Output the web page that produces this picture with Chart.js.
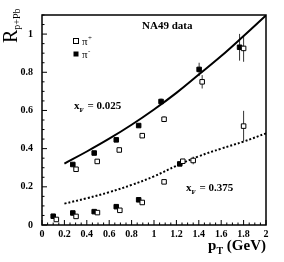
<!DOCTYPE html>
<html>
<head>
<meta charset="utf-8">
<script src="https://cdn.jsdelivr.net/npm/chart.js@4.4.0/dist/chart.umd.min.js"></script>
<style>
  html, body { margin: 0; padding: 0; background: #fff; }
</style>
</head>
<body>
<canvas id="c" width="284" height="262"></canvas>
<script>
// tick labels
const xTicks = [0, 0.2, 0.4, 0.6, 0.8, 1, 1.2, 1.4, 1.6, 1.8, 2];
const yTicks = [0, 0.2, 0.4, 0.6, 0.8, 1];

// xF = 0.025
const piMinusLowX = [0.275, 0.466, 0.663, 0.863, 1.063, 1.403, 1.764];
const piMinusLowY = [0.317, 0.377, 0.446, 0.521, 0.647, 0.815, 0.931];
const piMinusLowErr = [0, 0, 0, 0, 0.015, 0.035, 0.07];
const piPlusLowX = [0.304, 0.493, 0.69, 0.895, 1.09, 1.43, 1.80];
const piPlusLowY = [0.292, 0.333, 0.393, 0.468, 0.554, 0.75, 0.925];
const piPlusLowErr = [0, 0, 0, 0, 0.015, 0.035, 0.07];

// xF = 0.375
const piMinusHighX = [0.10, 0.275, 0.466, 0.663, 0.863, 1.23];
const piMinusHighY = [0.046, 0.063, 0.070, 0.096, 0.132, 0.32];
const piPlusHighX = [0.128, 0.304, 0.495, 0.695, 0.895, 1.09, 1.257, 1.35, 1.80];
const piPlusHighY = [0.029, 0.045, 0.065, 0.077, 0.118, 0.226, 0.334, 0.338, 0.518];
const piPlusHighErr = [0, 0, 0, 0, 0, 0, 0.01, 0.02, 0.08];

// model curves
const fitX = [0.2, 0.4, 0.6, 0.8, 1.0, 1.2, 1.4, 1.6, 1.8, 2.0];
const fitLow = [0.322, 0.385, 0.452, 0.525, 0.605, 0.692, 0.788, 0.885, 0.99, 1.098];
const fitHigh = [0.112, 0.14, 0.172, 0.21, 0.255, 0.31, 0.36, 0.4, 0.437, 0.48];

const SERIF = '"Liberation Serif", "DejaVu Serif", serif';

function pts(xs, ys) {
  return xs.map((x, i) => ({ x: x, y: ys[i] }));
}

function markers(xs, ys, err, filled) {
  return {
    data: pts(xs, ys),
    err: err,
    showLine: false,
    pointStyle: 'rect',
    pointRadius: 3.2,
    pointBorderWidth: 1,
    pointBorderColor: '#000',
    pointBackgroundColor: filled ? '#000' : '#fff',
    order: 1
  };
}

// error bars, drawn under the markers
const errorBars = {
  id: 'errorBars',
  beforeDatasetsDraw(chart) {
    const ctx = chart.ctx;
    const ys = chart.scales.y;
    ctx.save();
    ctx.strokeStyle = '#333';
    ctx.lineWidth = 1;
    chart.data.datasets.forEach((ds, i) => {
      if (!ds.err) return;
      const meta = chart.getDatasetMeta(i);
      meta.data.forEach((el, j) => {
        const e = ds.err[j];
        if (!e) return;
        const v = ds.data[j].y;
        ctx.beginPath();
        ctx.moveTo(el.x, ys.getPixelForValue(v + e));
        ctx.lineTo(el.x, ys.getPixelForValue(v - e));
        ctx.stroke();
      });
    });
    ctx.restore();
  }
};

// frame, inward ticks and all the texts
const decor = {
  id: 'decor',
  afterDraw(chart) {
    const ctx = chart.ctx;
    const a = chart.chartArea;
    const xs = chart.scales.x, ys = chart.scales.y;
    ctx.save();
    ctx.strokeStyle = '#000';
    ctx.lineWidth = 1.5;
    ctx.strokeRect(a.left, a.top, a.right - a.left, a.bottom - a.top);

    ctx.lineWidth = 1;
    for (let k = 0; k <= 40; k++) {
      const v = k * 0.05;
      const px = xs.getPixelForValue(v);
      const len = k % 4 === 0 ? 5 : 2.5;
      ctx.beginPath();
      ctx.moveTo(px, a.bottom);
      ctx.lineTo(px, a.bottom - len);
      ctx.stroke();
    }
    for (let k = 0; k <= 22; k++) {
      const v = k * 0.05;
      const py = ys.getPixelForValue(v);
      const len = k % 4 === 0 ? 5 : 2.5;
      ctx.beginPath();
      ctx.moveTo(a.left, py);
      ctx.lineTo(a.left + len, py);
      ctx.stroke();
    }

    ctx.fillStyle = '#000';
    ctx.textBaseline = 'alphabetic';

    ctx.font = 'bold 11px ' + SERIF;
    ctx.fillText('NA49 data', 142, 29);

    // legend
    ctx.fillStyle = '#fff';
    ctx.fillRect(73.5, 38.5, 5, 5);
    ctx.strokeRect(73.5, 38.5, 5, 5);
    ctx.fillStyle = '#000';
    ctx.fillRect(73.5, 51.5, 5, 5);
    ctx.font = '11px ' + SERIF;
    ctx.fillText('\u03c0', 82, 45);
    ctx.fillText('\u03c0', 82, 58);
    ctx.font = '7px ' + SERIF;
    ctx.fillText('+', 88, 40);
    ctx.fillText('-', 88, 53);

    function xf(x, y, txt) {
      ctx.font = 'bold 11px ' + SERIF;
      ctx.fillText('x', x, y);
      let w = ctx.measureText('x').width;
      ctx.font = 'bold 7px ' + SERIF;
      ctx.fillText('F', x + w, y + 3);
      w += ctx.measureText('F').width + 1;
      ctx.font = 'bold 11px ' + SERIF;
      ctx.fillText(txt, x + w, y);
    }
    xf(74, 109, ' = 0.025');
    xf(186, 191, ' = 0.375');

    // x title
    ctx.font = 'bold 15px ' + SERIF;
    const wp = ctx.measureText('p').width;
    const wg = ctx.measureText(' (GeV)').width;
    ctx.font = 'bold 10px ' + SERIF;
    const wt = ctx.measureText('T').width;
    let tx = 266 - wp - wt - wg;
    ctx.font = 'bold 15px ' + SERIF;
    ctx.fillText('p', tx, 250);
    ctx.font = 'bold 10px ' + SERIF;
    ctx.fillText('T', tx + wp, 254);
    ctx.font = 'bold 15px ' + SERIF;
    ctx.fillText(' (GeV)', tx + wp + wt, 250);

    // y title
    ctx.translate(17, 43);
    ctx.rotate(-Math.PI / 2);
    ctx.font = '20px ' + SERIF;
    ctx.fillText('R', 0, 0);
    const wr = ctx.measureText('R').width;
    ctx.font = '10px ' + SERIF;
    ctx.fillText('p+Pb', wr, 3);
    ctx.restore();
  }
};

new Chart(document.getElementById('c'), {
  type: 'scatter',
  data: {
    datasets: [
      markers(piPlusLowX, piPlusLowY, piPlusLowErr, false),
      markers(piMinusLowX, piMinusLowY, piMinusLowErr, true),
      markers(piPlusHighX, piPlusHighY, piPlusHighErr, false),
      markers(piMinusHighX, piMinusHighY, null, true),
      {
        data: pts(fitX, fitLow),
        showLine: true,
        borderColor: '#000',
        borderWidth: 2,
        tension: 0.4,
        pointRadius: 0,
        order: 2
      },
      {
        data: pts(fitX, fitHigh),
        showLine: true,
        borderColor: '#000',
        borderWidth: 2,
        borderDash: [2, 2],
        tension: 0.4,
        pointRadius: 0,
        order: 2
      }
    ]
  },
  options: {
    responsive: false,
    animation: false,
    layout: { padding: { top: 12, right: 18, left: 0, bottom: 0 } },
    plugins: { legend: { display: false }, tooltip: { enabled: false } },
    scales: {
      x: {
        type: 'linear',
        min: 0,
        max: 2,
        afterFit: (s) => { s.height = 37; },
        afterBuildTicks: (s) => { s.ticks = xTicks.map(v => ({ value: v })); },
        grid: { display: false, drawTicks: false },
        border: { display: false },
        ticks: {
          padding: 3,
          color: '#000',
          maxRotation: 0,
          autoSkip: false,
          font: { family: SERIF, size: 10, weight: 'bold' },
          callback: (v) => String(Math.round(v * 10) / 10)
        }
      },
      y: {
        type: 'linear',
        min: 0,
        max: 1.1,
        afterFit: (s) => { s.width = 42; },
        afterBuildTicks: (s) => { s.ticks = yTicks.map(v => ({ value: v })); },
        grid: { display: false, drawTicks: false },
        border: { display: false },
        ticks: {
          padding: 9,
          color: '#000',
          autoSkip: false,
          font: { family: SERIF, size: 10, weight: 'bold' },
          callback: (v) => String(Math.round(v * 10) / 10)
        }
      }
    }
  },
  plugins: [errorBars, decor]
});
</script>
</body>
</html>
